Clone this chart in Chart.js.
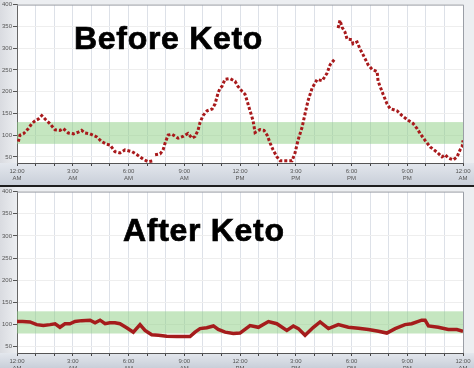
<!DOCTYPE html>
<html>
<head>
<meta charset="utf-8">
<script src="https://cdn.jsdelivr.net/npm/chart.js@4.4.1/dist/chart.umd.min.js"></script>
<style>
  html,body{margin:0;padding:0;background:#d9dde4;}
  #wrap{position:relative;width:474px;height:368px;overflow:hidden;background:#d9dde4;}
  canvas{position:absolute;left:0;}
  .ttl{position:absolute;font-family:'Liberation Sans',Arial,sans-serif;font-weight:bold;font-size:32px;line-height:32px;color:#000;letter-spacing:0.7px;-webkit-text-stroke:0.7px #000;white-space:nowrap;}
</style>
</head>
<body>
<div id="wrap">
  <canvas id="c1" width="474" height="185" style="top:0"></canvas>
  <div style="position:absolute;left:0;top:185px;width:474px;height:2px;background:#1e1e1e"></div>
  <canvas id="c2" width="474" height="181" style="top:187px"></canvas>
  <div class="ttl" style="left:74px;top:22px">Before Keto</div>
  <div class="ttl" style="left:123px;top:214px">After Keto</div>
</div>
<script>
// ---- data ----
const gridHours = [0,1,2,3,4,5,6,7,8,9,10,11,12,13,14,15,16,17,18,19,20,21,22,23,24];
const xTickHours = [0,3,6,9,12,15,18,21,24];
const xTickTimes = ['12:00','3:00','6:00','9:00','12:00','3:00','6:00','9:00','12:00'];
const xTickPeriods = ['AM','AM','AM','AM','PM','PM','PM','PM','AM'];
const yTicks = [50,100,150,200,250,300,350,400];
const targetLow = 80;
const targetHigh = 130;

const beforeHours = [0.07,0.16,0.34,0.61,0.79,0.97,1.15,1.33,1.51,1.78,2.05,2.31,2.49,2.76,3.03,3.30,3.48,3.66,3.93,4.29,4.56,4.83,5.01,5.27,5.54,5.81,6.19,6.46,6.78,7.05,7.32,7.37,7.43,7.70,7.86,7.97,8.13,8.34,8.67,8.93,9.20,9.42,9.58,9.74,9.85,10.01,10.23,10.50,10.66,10.82,10.93,11.03,11.19,11.46,11.73,11.89,12.11,12.27,12.38,12.54,12.70,12.81,13.08,13.29,13.46,13.62,13.78,13.99,14.16,14.48,14.80,14.96,15.12,15.34,15.50,15.66,15.88,16.15,16.42,16.68,16.85,17.12,17.20,17.28,17.38,17.49,17.65,17.76,18.03,18.08,18.30,18.46,18.62,18.89,19.11,19.38,19.43,19.70,19.91,20.08,20.45,20.72,21.05,21.31,21.53,21.69,21.96,22.23,22.60,22.87,23.04,23.20,23.47,23.68,23.84,23.95,24.0];
const beforeValues = [85,100,103,115,126,133,137,145,137,126,112,111,115,105,103,107,111,105,103,96,85,79,77,62,59,66,62,55,45,39,41,null,55,57,66,82,100,102,93,97,104,93,97,111,129,145,156,160,172,197,208,212,228,230,224,212,201,194,179,156,134,106,113,111,100,82,66,50,41,41,41,59,88,118,149,179,208,228,225,242,262,276,null,346,364,348,337,321,319,310,314,298,285,262,251,246,224,194,172,161,156,145,134,127,115,104,88,73,61,50,55,48,43,50,66,73,88];

const afterHours = [0,0.3,0.7,1.06,1.42,1.78,2.05,2.31,2.58,2.85,3.12,3.48,3.93,4.2,4.47,4.74,5.0,5.27,5.54,5.9,6.26,6.62,6.89,7.25,7.61,8.06,8.6,9.31,9.58,9.85,10.21,10.57,10.83,11.2,11.64,12.0,12.54,12.99,13.53,13.98,14.52,14.87,15.14,15.5,15.95,16.31,16.76,17.29,17.83,18.37,18.91,19.45,19.9,20.35,20.88,21.24,21.78,21.96,22.14,22.67,23.21,23.67,24];
const afterValues = [107,107,106,100,98,100,102,94,102,102,107,109,110,104,110,102,104,104,102,93,83,100,87,77,76,74,73,73,83,91,93,97,89,83,80,81,98,94,107,102,87,97,91,76,94,106,91,100,94,92,89,85,81,91,100,102,110,110,97,94,89,89,85];

Chart.defaults.font.family = "'Liberation Sans', Arial, sans-serif";

const panelPlugin = {
  id: 'panelBg',
  beforeDraw(chart) {
    const {ctx, chartArea: a, width, height} = chart;
    ctx.save();
    const lg = ctx.createLinearGradient(0, 0, a.left, 0);
    lg.addColorStop(0, '#d9dbe0'); lg.addColorStop(1, '#eceef1');
    ctx.fillStyle = lg; ctx.fillRect(0, 0, width, height);
    ctx.fillStyle = '#eceef1'; ctx.fillRect(a.right, 0, width - a.right, height);
    const g = ctx.createLinearGradient(0, a.bottom, 0, height);
    g.addColorStop(0, '#e3e7ed'); g.addColorStop(1, '#c9cfd9');
    ctx.fillStyle = g; ctx.fillRect(0, a.bottom, width, height - a.bottom);
    ctx.fillStyle = '#ffffff';
    ctx.fillRect(a.left, a.top, a.right - a.left, a.bottom - a.top);
    ctx.restore();
  },
  beforeDatasetsDraw(chart) {
    const {ctx, chartArea: a, scales: {y}} = chart;
    const y1 = y.getPixelForValue(targetHigh), y2 = y.getPixelForValue(targetLow);
    ctx.save();
    ctx.fillStyle = 'rgba(140,205,130,0.5)';
    ctx.fillRect(a.left, y1, a.right - a.left, y2 - y1);
    ctx.strokeStyle = '#9a9ea6'; ctx.lineWidth = 1;
    ctx.beginPath();
    ctx.moveTo(a.left, a.top + 0.5); ctx.lineTo(a.right + 0.5, a.top + 0.5);
    ctx.lineTo(a.right + 0.5, a.bottom);
    ctx.stroke();
    ctx.restore();
  }
};

function makeOptions(xAxisHeight, padTop) {
  return {
    responsive: false,
    animation: false,
    devicePixelRatio: 1,
    layout: {padding: {left: 0, right: 11, top: padTop, bottom: 0}},
    plugins: {legend: {display: false}, tooltip: {enabled: false}},
    scales: {
      x: {
        type: 'linear', min: 0, max: 24,
        afterBuildTicks: s => { s.ticks = gridHours.map(v => ({value: v})); },
        afterFit: s => { s.height = xAxisHeight; },
        grid: {color: '#dde1e8', tickLength: 3, tickColor: '#444'},
        border: {color: '#555'},
        ticks: {
          autoSkip: false, maxRotation: 0, minRotation: 0, padding: 1,
          font: {size: 6, lineHeight: 1.3}, color: '#555',
          callback: v => { const i = xTickHours.indexOf(v); return i < 0 ? '' : [xTickTimes[i], xTickPeriods[i]]; }
        }
      },
      y: {
        min: 36, max: 400,
        afterBuildTicks: s => { s.ticks = yTicks.map(v => ({value: v})); },
        afterFit: s => { s.width = 17; },
        grid: {color: '#eeeeee', tickLength: 4, tickColor: '#555'},
        border: {color: '#666'},
        ticks: {padding: 1, font: {size: 6}, color: '#555'}
      }
    }
  };
}

new Chart(document.getElementById('c1'), {
  type: 'line',
  data: {
    datasets: [{
      data: beforeHours.map((h, i) => ({x: h, y: beforeValues[i]})),
      borderColor: '#a8191b', borderWidth: 3, borderDash: [3, 2],
      pointRadius: 0, tension: 0, spanGaps: false, fill: false
    }]
  },
  options: makeOptions(22, 2),
  plugins: [panelPlugin]
});

new Chart(document.getElementById('c2'), {
  type: 'line',
  data: {
    datasets: [{
      data: afterHours.map((h, i) => ({x: h, y: afterValues[i]})),
      borderColor: '#a51c1c', borderWidth: 3.5,
      pointRadius: 0, tension: 0, fill: false
    }]
  },
  options: makeOptions(15, 4),
  plugins: [panelPlugin]
});
</script>
</body>
</html>
